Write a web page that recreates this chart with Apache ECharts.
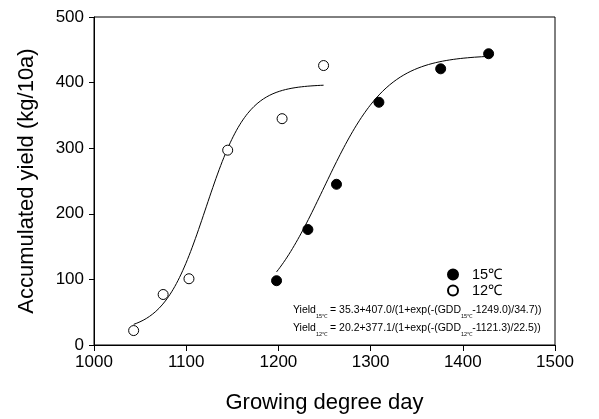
<!DOCTYPE html>
<html>
<head>
<meta charset="utf-8">
<script src="https://cdn.jsdelivr.net/npm/echarts@6/dist/echarts.min.js"></script>
<style>
  html, body { margin: 0; padding: 0; background: #fff; }
  #chart { width: 599px; height: 419px; }
</style>
</head>
<body>
<div id="chart"></div>
<script>
// Observed accumulated yield by growing degree day
const gdd15 = [1198, 1232, 1263, 1309, 1376, 1428];
const yield15 = [98, 176, 245, 370, 421, 444];
const gdd12 = [1043, 1075, 1103, 1145, 1204, 1249];
const yield12 = [22, 77, 101, 297, 345, 426];

// Logistic fit parameters: [base, amplitude, midpoint, scale]
const fit15 = [35.3, 407.0, 1249.0, 34.7];
const fit12 = [20.2, 377.1, 1121.3, 22.5];

const seriesNames = ['15℃', '12℃'];
const xTicks = [1000, 1500, 100];
const yTicks = [0, 500, 100];

const FONT = '"Liberation Sans", Arial, sans-serif';

function logistic(p, x) {
  return p[0] + p[1] / (1 + Math.exp(-(x - p[2]) / p[3]));
}
function fitCurve(p, xs) {
  const lo = Math.min.apply(null, xs), hi = Math.max.apply(null, xs);
  const pts = [];
  const n = 120;
  for (let i = 0; i <= n; i++) {
    const x = lo + (hi - lo) * i / n;
    pts.push([x, logistic(p, x)]);
  }
  return pts;
}
function pairs(xs, ys) { return xs.map((x, i) => [x, ys[i]]); }
function eqText(p, sub) {
  return '{t|Yield}{s|' + sub + '}{t| = ' + p[0].toFixed(1) + '+' + p[1].toFixed(1) +
    '/(1+exp(-(GDD}{s|' + sub + '}{t|-' + p[2].toFixed(1) + ')/' + p[3].toFixed(1) + '))}';
}

const chart = echarts.init(document.getElementById('chart'), null, { renderer: 'canvas' });
chart.setOption({
  animation: false,
  backgroundColor: '#fff',
  grid: { left: 94, right: 44, top: 17, bottom: 73, show: true, borderColor: '#000', borderWidth: 1 },
  xAxis: {
    type: 'value', min: xTicks[0], max: xTicks[1], interval: xTicks[2],
    name: 'Growing degree day', nameLocation: 'middle', nameGap: 47,
    nameTextStyle: { fontFamily: FONT, fontSize: 22, color: '#000' },
    axisLine: { show: true, onZero: false, lineStyle: { color: '#000', width: 1 } },
    axisTick: { show: true, inside: false, length: 6, lineStyle: { color: '#000' } },
    axisLabel: { fontFamily: FONT, fontSize: 17, color: '#000', margin: 9, formatter: v => String(v) },
    splitLine: { show: false }
  },
  yAxis: {
    type: 'value', min: yTicks[0], max: yTicks[1], interval: yTicks[2],
    name: 'Accumulated yield (kg/10a)', nameLocation: 'middle', nameGap: 56,
    nameTextStyle: { fontFamily: FONT, fontSize: 22, color: '#000' },
    axisLine: { show: true, onZero: false, lineStyle: { color: '#000', width: 1 } },
    axisTick: { show: true, inside: false, length: 5, lineStyle: { color: '#000' } },
    axisLabel: { fontFamily: FONT, fontSize: 17, color: '#000', margin: 10, formatter: v => String(v) },
    splitLine: { show: false }
  },
  legend: {
    orient: 'vertical', left: 447, top: 267, padding: 0,
    itemWidth: 10, itemHeight: 10, itemGap: 1,
    data: seriesNames,
    textStyle: { fontFamily: FONT, fontSize: 14.5, color: '#000', padding: [0, 0, 0, 9] }
  },
  series: [
    {
      type: 'line', data: fitCurve(fit15, gdd15), showSymbol: false, symbol: 'none',
      lineStyle: { color: '#000', width: 1 }, silent: true, z: 2
    },
    {
      type: 'line', data: fitCurve(fit12, gdd12), showSymbol: false, symbol: 'none',
      lineStyle: { color: '#000', width: 1 }, silent: true, z: 2
    },
    {
      name: seriesNames[0], type: 'scatter', data: pairs(gdd15, yield15),
      symbol: 'circle', symbolSize: 10,
      itemStyle: { color: '#000', borderColor: '#000', borderWidth: 1, opacity: 1 }, z: 3
    },
    {
      name: seriesNames[1], type: 'scatter', data: pairs(gdd12, yield12),
      symbol: 'circle', symbolSize: 10,
      itemStyle: { color: '#fff', borderColor: '#000', borderWidth: 1, opacity: 1 }, z: 3
    }
  ],
  graphic: [
    {
      type: 'text', left: 293, top: 305,
      style: {
        text: eqText(fit15, '15℃') + '\n' + eqText(fit12, '12℃'),
        fill: '#000',
        rich: {
          t: { fontFamily: FONT, fontSize: 10.5, lineHeight: 18, fill: '#000' },
          s: { fontFamily: FONT, fontSize: 5.5, lineHeight: 18, verticalAlign: 'bottom', fill: '#000' }
        }
      }
    }
  ]
});
</script>
</body>
</html>
